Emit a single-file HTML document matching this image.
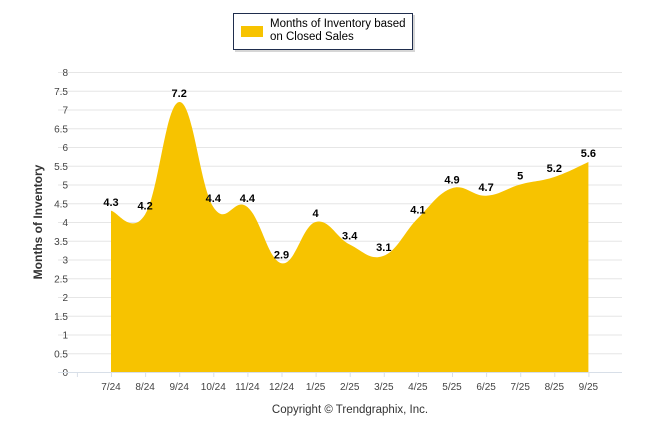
<!DOCTYPE html>
<html><head><meta charset="utf-8"><style>
body{margin:0;background:#fff;width:646px;height:434px;overflow:hidden;font-family:"Liberation Sans",sans-serif}
</style></head><body>
<svg id="c" width="646" height="434" style="position:absolute;left:0;top:0">
<g>
<rect x="235" y="15" width="180" height="37" fill="#bbb" opacity="0.6"/>
<rect x="233.5" y="13.5" width="179" height="36" fill="#fff" stroke="#1f2d4d" stroke-width="1"/>
<rect x="241" y="26" width="22" height="11" fill="#f7c300"/>
<text x="270" y="27" font-size="11.5" fill="#000">Months of Inventory based</text>
<text x="270" y="40" font-size="11.5" fill="#000">on Closed Sales</text>
</g>
<text transform="translate(42,222) rotate(-90)" text-anchor="middle" font-size="12" font-weight="bold" fill="#333">Months of Inventory</text>
<text x="350" y="413" text-anchor="middle" font-size="11.5" fill="#333">Copyright © Trendgraphix, Inc.</text>
<g id="grid"></g><g id="area"></g><g id="labels"></g>
</svg>
<script>
const categories=["7/24","8/24","9/24","10/24","11/24","12/24","1/25","2/25","3/25","4/25","5/25","6/25","7/25","8/25","9/25"];
const values=[4.3,4.2,7.2,4.4,4.4,2.9,4,3.4,3.1,4.1,4.9,4.7,5,5.2,5.6];
const yTicks=[0,0.5,1,1.5,2,2.5,3,3.5,4,4.5,5,5.5,6,6.5,7,7.5,8];
const NS="http://www.w3.org/2000/svg";
const y=v=>372-v*37.5;
const x=i=>111+i*34.1;
function mk(t,a,p){const e=document.createElementNS(NS,t);for(const k in a)e.setAttribute(k,a[k]);p.appendChild(e);return e;}
const grid=document.getElementById('grid');
yTicks.forEach(t=>{
 const l=mk('line',{x1:58,x2:622,y1:y(t)+0.5,y2:y(t)+0.5,stroke:'#e6e6e6','stroke-width':1},grid);
 
 
 const tx=mk('text',{x:68,y:y(t)+4,'text-anchor':'end','font-size':10,fill:'#444'},grid);
 tx.textContent=t;
 
 
});
mk('line',{x1:58,x2:622,y1:372.5,y2:372.5,stroke:'#d8dfe8'},grid);
for(let i=-1;i<categories.length;i++){mk('line',{x1:x(i)+0.5,x2:x(i)+0.5,y1:372,y2:377,stroke:'#d8dfe8'},grid);}
categories.forEach((c,i)=>{
 const t=mk('text',{x:x(i),y:390,'text-anchor':'middle','font-size':10,fill:'#444'},grid);
 t.textContent=c;
 
 
});
const pts=values.map((v,i)=>[x(i),y(v)]);
let d=`M${pts[0][0]},${y(0)} L${pts[0][0]},${pts[0][1]}`;
for(let i=0;i<pts.length-1;i++){
 const p0=pts[Math.max(0,i-1)],p1=pts[i],p2=pts[i+1],p3=pts[Math.min(pts.length-1,i+2)];
 const k=0.2;
 const c1=[p1[0]+(p2[0]-p0[0])*k,p1[1]+(p2[1]-p0[1])*k];
 const c2=[p2[0]-(p3[0]-p1[0])*k,p2[1]-(p3[1]-p1[1])*k];
 d+=` C${c1[0]},${c1[1]} ${c2[0]},${c2[1]} ${p2[0]},${p2[1]}`;
}
d+=` L${pts[pts.length-1][0]},${y(0)} Z`;
const a=mk('path',{d:d,fill:'#f7c300'},document.getElementById('area'));


const lb=document.getElementById('labels');
values.forEach((v,i)=>{
 const t=mk('text',{x:x(i),y:y(v)-5,'text-anchor':'middle','font-size':11,'font-weight':'bold',fill:'#000'},lb);
 t.textContent=v;
 
 
});
</script>
</body></html>
